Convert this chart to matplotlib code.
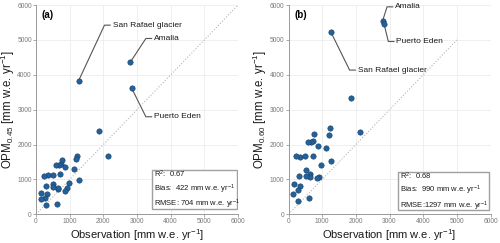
import numpy as np
import matplotlib.pyplot as plt
from matplotlib.patches import Rectangle

# observed annual precipitation [mm w.e. yr-1]
obs = [1870, 2135, 1225, 1195, 770, 740, 670, 590, 868, 1116, 714, 491, 352,
       233, 1265, 977, 511, 650, 650, 511, 302, 908, 853, 337, 154, 273, 144,
       283, 610]
# OPM with factor 0.45 and 0.60
opm45 = [2400, 1671, 1681, 1585, 1547, 1442, 1423, 1423, 1347, 1299, 1146,
         1127, 1117, 1089, 984, 907, 860, 726, 745, 793, 821, 754, 678, 583,
         611, 458, 430, 267, 296]
opm60 = [3324, 2350, 2464, 2283, 2292, 2101, 2073, 2063, 1968, 1901, 1681,
         1671, 1633, 1681, 1528, 1404, 1270, 1146, 1079, 1098, 1098, 1079,
         1031, 821, 879, 697, 583, 392, 458]

# named stations
names = ["San Rafael glacier", "Amalia", "Puerto Eden"]
names_obs = [1265, 2795, 2840]
names_45 = [3830, 4355, 3620]
names_60 = [5215, 5549, 5444]

stats = {
    "a": ["0.67", "422", "704"],
    "b": ["0.68", "990", "1297"],
}

plt.rcParams["font.family"] = ["Liberation Sans", "DejaVu Sans"]
plt.rcParams["mathtext.default"] = "regular"

DOT = "#22619c"
EDGE = "#1b3f63"
GRID = "#ececec"
AXC = "#9a9a9a"
TXT = "#7a7a7a"

fig = plt.figure(figsize=(5, 2.43), dpi=100)
ax_a = fig.add_axes([0.072, 0.118, 0.404, 0.861])
ax_b = fig.add_axes([0.577, 0.118, 0.404, 0.861])

# label layout: (elbow x, elbow y) for each station, per panel
label_pos = {
    "a": [(2034, 5425), (3264, 5043), (3264, 2798)],
    "b": [(1815, 4136), (2927, 5950), (2966, 4957)],
}
# stats box: x, y, width, height, text x, text centre y
box_pos = {
    "a": (3440, 143, 2530, 1127, 3512, 693),
    "b": (3254, 124, 2708, 1098, 3304, 653),
}


def style_axes(ax, ylabel):
    ax.set_xlim(0, 6000)
    ax.set_ylim(0, 6000)
    ax.set_xticks(range(0, 6001, 1000))
    ax.set_yticks(range(0, 6001, 1000))
    ax.grid(True, color=GRID, linewidth=0.6)
    ax.set_axisbelow(True)
    for s in ["top", "right"]:
        ax.spines[s].set_visible(False)
    for s in ["left", "bottom"]:
        ax.spines[s].set_color(AXC)
        ax.spines[s].set_linewidth(0.7)
    ax.tick_params(length=2, width=0.6, color=AXC, labelsize=4.8,
                   labelcolor=TXT, pad=1)
    ax.set_xlabel("Observation [mm w.e. yr$^{-1}$]", fontsize=8, labelpad=1,
                  color="#1a1a1a")
    ax.set_ylabel(ylabel, fontsize=8.3, color="#1a1a1a")
    ax.yaxis.set_label_coords(-0.095, 0.5)


def draw_panel(ax, tag, yvals, named_y, diag_max, ylabel):
    style_axes(ax, ylabel)
    ax.plot([0, diag_max], [0, diag_max], color="#b5b5b5", linestyle=":",
            linewidth=0.8, zorder=1)
    ax.scatter(obs, yvals, s=15, color=DOT, edgecolor=EDGE, linewidth=0.4,
               zorder=3)
    ax.scatter(names_obs, named_y, s=15, color=DOT, edgecolor=EDGE,
               linewidth=0.4, zorder=3)
    for name, px, py, (ex, ey) in zip(names, names_obs, named_y,
                                      label_pos[tag]):
        ax.plot([px, ex, ex + 170], [py, ey, ey], color="#555555",
                linewidth=0.8, zorder=2)
        ax.text(ex + 240, ey, name, fontsize=6, va="center", ha="left",
                color="#1a1a1a")
    ax.text(170, 5710, f"({tag})", fontsize=7, fontweight="bold",
            va="center", ha="left")

    bx, by, bw, bh, tx, ty = box_pos[tag]
    ax.add_patch(Rectangle((bx, by), bw, bh, facecolor="white",
                           edgecolor="#a0a0a0", linewidth=1.0, zorder=4))
    r2, bias, rmse = stats[tag]
    lines = [f"R$^2$:  {r2}",
             f"Bias:  {bias} mm w.e. yr$^{{-1}}$",
             f"RMSE:{' ' if len(rmse) == 3 else ''}{rmse} mm w.e. yr$^{{-1}}$"]
    ax.text(tx, ty, "\n".join(lines), fontsize=5.5, va="center", ha="left",
            linespacing=1.25, color="#1a1a1a", zorder=5)


draw_panel(ax_a, "a", opm45, names_45, 6000,
           "OPM$_{0.45}$ [mm w.e. yr$^{-1}$]")
draw_panel(ax_b, "b", opm60, names_60, 5000,
           "OPM$_{0.60}$ [mm w.e. yr$^{-1}$]")

fig.savefig("out.png", dpi=100)
